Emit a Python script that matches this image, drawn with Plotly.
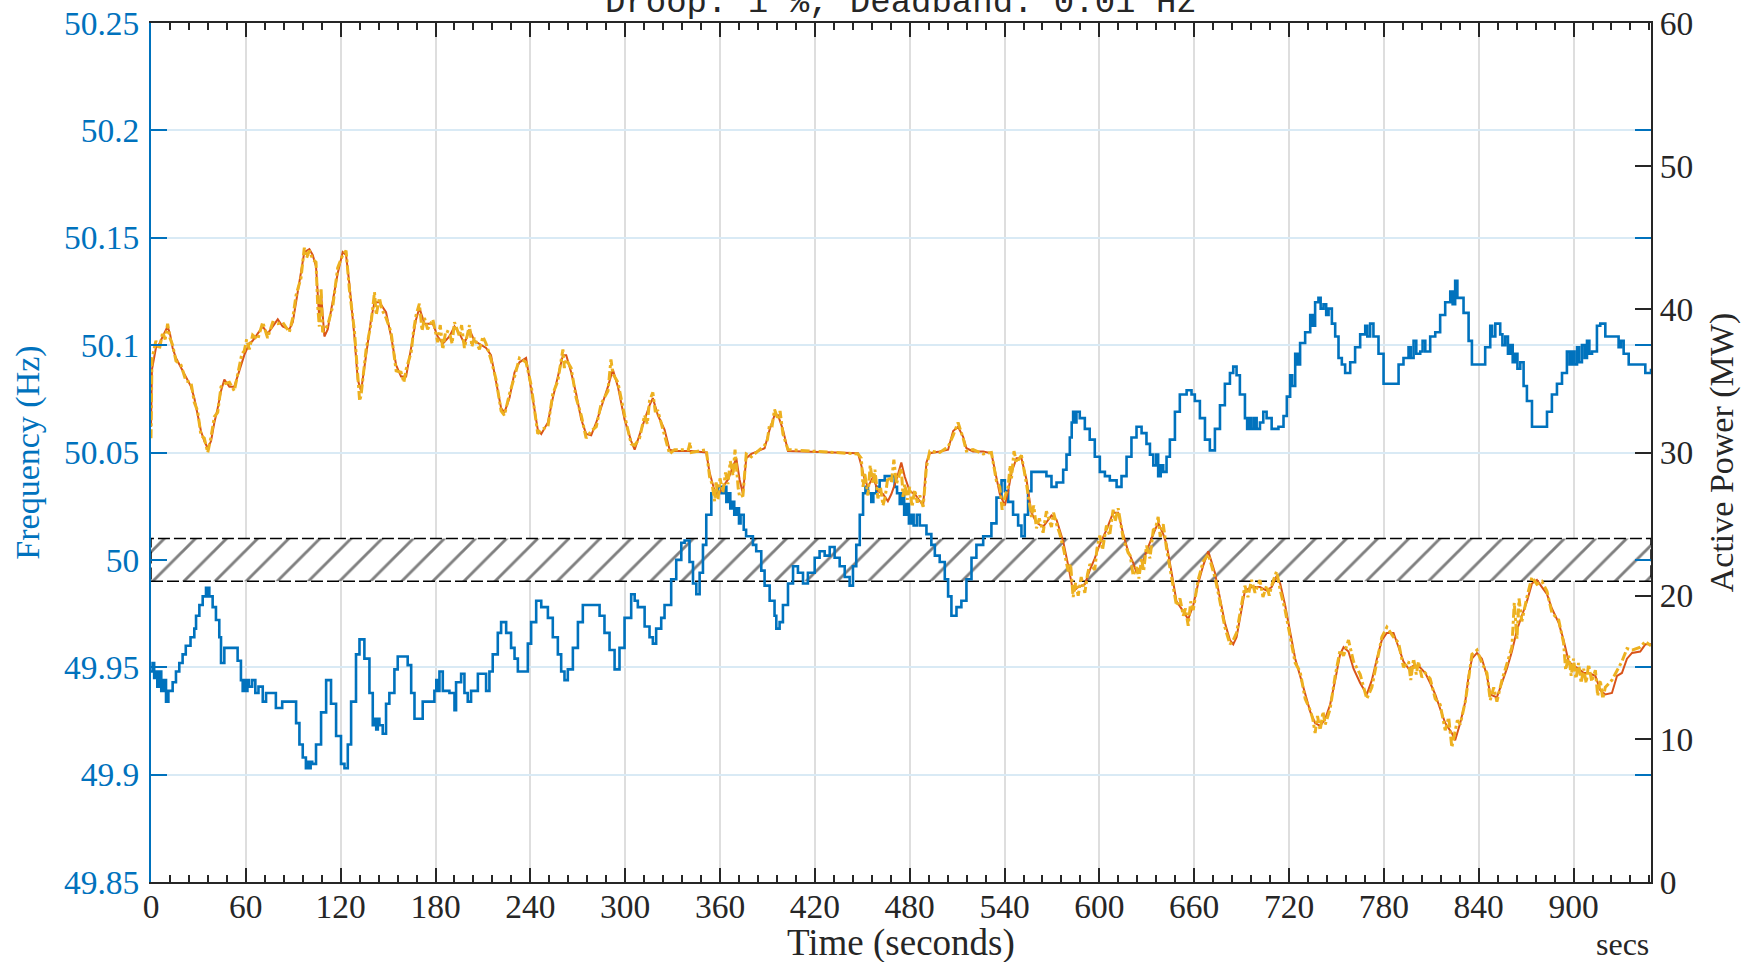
import plotly.graph_objects as go

# ---- grid frequency (Hz), recorded as a staircase signal ----
freq_t = [0, 1, 2, 3, 4, 5, 6.5, 8, 9.5, 11, 13.7, 15.8, 17.9, 20, 22, 25, 27.4, 28.5, 30.6, 32.7,
          34.8, 35.8, 36.3, 36.9, 39, 41.1, 43.2, 44.3, 46.4, 52.7, 54.8, 56.9, 58, 59, 60, 61, 62, 64,
          66, 68, 70.7, 72.8, 77, 79, 83, 89.7, 91.8, 93.9, 96, 98, 99, 100, 101, 102, 104.4, 107.6,
          110.8, 113.9, 117.1, 120.2, 122.4, 124.5, 126.6, 129.7, 131.9, 135, 138.2, 140.3, 141.5,
          142.5, 143.5, 144.5, 146.6, 148.7, 150.8, 154, 156.1, 160.3, 162.4, 164.6, 166.7, 169.8,
          171.9, 177.2, 179.3, 180.5, 181.5, 182.5, 184.6, 188.8, 192, 193, 196.2, 198.3, 200.4,
          202.5, 206.8, 209.9, 212, 214.1, 216.2, 219.4, 221.5, 224.7, 227.8, 230, 232.1, 238.4,
          240.5, 243.7, 246.9, 251.1, 254.2, 257.4, 259.5, 261.6, 263.7, 266.9, 270.1, 273.2, 280.6,
          283.8, 286.9, 290.1, 293.3, 296.4, 299.6, 303.8, 306, 308, 312.3, 315.4, 317.5, 319.6,
          322.8, 324.9, 329.1, 332.3, 335.5, 337.6, 340.7, 342.9, 345.0, 347.1, 349.2, 351.3, 354.5,
          358.7, 361, 362.5, 364, 365, 366.5, 368, 369, 370.5, 372, 373, 375, 376.5, 380.8, 382.9,
          386.1, 388.2, 391.4, 394.5, 395.6, 397.7, 399.8, 403.0, 406.2, 409.3, 412.5, 415.6, 419.9,
          423.0, 426.2, 429.4, 432.5, 435.7, 438.9, 442.0, 444.1, 446.2, 448.4, 450.5, 452, 453.6,
          455.7, 457, 458.9, 461, 464.2, 468.4, 470.5, 472, 473.7, 475, 476.5, 478, 479.5, 481,
          482.5, 484.5, 486.4, 490.6, 493.7, 495.9, 499.0, 502.2, 504.3, 506.4, 509.6, 512.7, 515.9,
          519.1, 522.2, 526.5, 529.6, 531.7, 534.9, 538.1, 540.2, 542.3, 545.4, 548.6, 550.7, 552.8,
          554.9, 557.0, 560.2, 566.5, 569.7, 572.9, 577.1, 579.2, 581.3, 582.5, 583.4, 584.5, 585.5,
          587.6, 590.8, 593.9, 597.1, 600.3, 603.5, 606.6, 610.9, 614.0, 617.2, 620.3, 623.5, 626.7,
          629.8, 632, 634.1, 636, 637.2, 638.8, 640.4, 642.5, 644.6, 647.8, 650.9, 655.2, 658.3,
          660.4, 663.6, 666.8, 669.9, 673.1, 676.3, 679.4, 682.6, 684.7, 686.8, 688.9, 692.1, 693.5,
          695, 696.3, 698, 699.5, 701.6, 703.7, 705.8, 709.0, 713.3, 716.5, 718.6, 720.7, 722, 723.9,
          725.5, 727.0, 730.2, 733.4, 735, 736.5, 738.6, 740, 741.8, 743.5, 745.0, 747.1, 749.2,
          751.3, 753.4, 755.5, 758.7, 761.8, 765.0, 768.2, 769.5, 771.3, 773.4, 776.6, 779.8, 786.1,
          789.3, 792.4, 795.6, 797, 798.8, 800.5, 803.0, 804.5, 806.2, 809.3, 812.5, 815.6, 818.8,
          822.0, 823.5, 825.1, 826.5, 828.3, 830.4, 833.6, 835.7, 841.0, 844.1, 847.3, 848.5, 850.5,
          853.6, 855, 856.8, 858.5, 859.9, 861.5, 863.1, 864.5, 866.3, 868.4, 870.5, 873.7, 880.0,
          883.2, 886.3, 889.5, 892.7, 895.8, 897.5, 899, 900.5, 902.2, 903.5, 905.3, 907, 908.5,
          910, 911.7, 914.8, 916.9, 920.1, 925.4, 928.5, 930, 931.7, 934.9, 943.3, 945.4, 949]
freq_hz = [49.948, 49.952, 49.945, 49.948, 49.941, 49.948, 49.939, 49.944, 49.934, 49.939, 49.943,
           49.948, 49.952, 49.956, 49.960, 49.964, 49.968, 49.974, 49.979, 49.983, 49.987, 49.983,
           49.987, 49.983, 49.978, 49.972, 49.964, 49.952, 49.959, 49.959, 49.953, 49.944, 49.939,
           49.944, 49.939, 49.944, 49.941, 49.944, 49.938, 49.941, 49.934, 49.938, 49.938, 49.931,
           49.934, 49.934, 49.924, 49.914, 49.908, 49.903, 49.906, 49.903, 49.906, 49.905, 49.914,
           49.929, 49.944, 49.933, 49.918, 49.905, 49.903, 49.914, 49.934, 49.956, 49.963, 49.954,
           49.938, 49.923, 49.926, 49.921, 49.926, 49.923, 49.919, 49.933, 49.938, 49.949, 49.955,
           49.955, 49.951, 49.938, 49.926, 49.926, 49.934, 49.934, 49.939, 49.944, 49.939, 49.948,
           49.939, 49.938, 49.930, 49.943, 49.947, 49.938, 49.934, 49.939, 49.947, 49.947, 49.939,
           49.948, 49.956, 49.966, 49.971, 49.966, 49.959, 49.954, 49.948, 49.961, 49.971, 49.981,
           49.978, 49.973, 49.964, 49.956, 49.948, 49.944, 49.949, 49.959, 49.971, 49.979, 49.979,
           49.974, 49.966, 49.958, 49.949, 49.959, 49.973, 49.984, 49.981, 49.978, 49.969, 49.964,
           49.961, 49.968, 49.973, 49.979, 49.991, 50.000, 50.008, 50.009, 49.999, 49.989, 49.984,
           49.994, 50.007, 50.021, 50.031, 50.034, 50.031, 50.034, 50.027, 50.031, 50.024, 50.027,
           50.021, 50.024, 50.017, 50.021, 50.014, 50.011, 50.007, 50.004, 49.995, 49.988, 49.981,
           49.974, 49.968, 49.971, 49.979, 49.989, 49.997, 49.994, 49.989, 49.994, 50.001, 50.004,
           50.002, 50.006, 50.001, 49.997, 49.992, 49.988, 49.997, 50.007, 50.021, 50.031, 50.034,
           50.031, 50.027, 50.031, 50.034, 50.037, 50.039, 50.039, 50.034, 50.031, 50.026, 50.031,
           50.021, 50.026, 50.017, 50.021, 50.016, 50.021, 50.016, 50.012, 50.007, 50.002, 49.999,
           49.991, 49.983, 49.974, 49.978, 49.981, 49.991, 50.001, 50.007, 50.011, 50.011, 50.017,
           50.029, 50.037, 50.032, 50.027, 50.021, 50.016, 50.011, 50.021, 50.032, 50.041, 50.041,
           50.039, 50.034, 50.036, 50.042, 50.049, 50.057, 50.064, 50.069, 50.064, 50.069, 50.066,
           50.061, 50.056, 50.048, 50.041, 50.039, 50.037, 50.034, 50.039, 50.048, 50.057, 50.062,
           50.059, 50.054, 50.049, 50.044, 50.049, 50.039, 50.044, 50.041, 50.048, 50.056, 50.069,
           50.077, 50.079, 50.077, 50.074, 50.066, 50.056, 50.051, 50.061, 50.072, 50.082, 50.087,
           50.090, 50.086, 50.077, 50.066, 50.061, 50.066, 50.061, 50.066, 50.061, 50.064, 50.069,
           50.066, 50.061, 50.062, 50.067, 50.076, 50.086, 50.081, 50.096, 50.091, 50.101, 50.106,
           50.114, 50.109, 50.120, 50.122, 50.117, 50.119, 50.114, 50.117, 50.110, 50.104, 50.094,
           50.091, 50.087, 50.092, 50.099, 50.105, 50.109, 50.104, 50.110, 50.104, 50.096, 50.082,
           50.082, 50.091, 50.094, 50.099, 50.094, 50.102, 50.096, 50.097, 50.102, 50.097, 50.104,
           50.106, 50.114, 50.120, 50.125, 50.119, 50.130, 50.122, 50.122, 50.115, 50.102, 50.091,
           50.091, 50.099, 50.109, 50.104, 50.110, 50.105, 50.100, 50.104, 50.096, 50.100, 50.092,
           50.096, 50.089, 50.092, 50.081, 50.074, 50.062, 50.062, 50.069, 50.077, 50.082, 50.087,
           50.097, 50.091, 50.097, 50.091, 50.099, 50.092, 50.100, 50.094, 50.102, 50.096, 50.097,
           50.109, 50.110, 50.104, 50.104, 50.099, 50.102, 50.096, 50.091, 50.091, 50.087, 50.089]

# ---- active power set-point (MW) ----
power_t = [0, 0.6, 3.1, 5.3, 7.4, 10.5, 12.0, 13.7, 15.8, 19.0, 22.1, 25.3, 27.4, 29.5, 31.6, 33.7,
           35.9, 38.0, 40.1, 42.2, 44.3, 46.4, 49.6, 52.7, 55.9, 59.0, 62.2, 64.3, 67.5, 70.7, 73.8,
           77.0, 80.2, 83.3, 87.5, 89.7, 91.8, 94.9, 97.0, 100.2, 102.3, 104.4, 106.5, 107.6, 109.7,
           111.8, 115.0, 118.1, 121.3, 123.4, 125.5, 128.7, 130.8, 132.9, 136.1, 139.2, 141.4, 144.5,
           148.7, 151.9, 155.1, 158.2, 161.4, 164.6, 167.7, 169.8, 173.0, 178.3, 181.4, 184.6, 188.8,
           192.0, 195.2, 198.3, 201.5, 204.6, 207.8, 212.0, 215.1, 218.3, 221.5, 223.6, 226.8, 230.0,
           233.1, 237.3, 240.5, 244.7, 246.9, 251.1, 254.2, 257.4, 260.6, 262.7, 265.8, 269.0, 272.2,
           275.3, 278.5, 281.7, 284.8, 289.1, 292.2, 295.4, 299.6, 303.8, 306.0, 309.1, 312.3, 315.4,
           317.5, 320.7, 324.9, 328.1, 331.2, 341.8, 351.3, 353.4, 356.6, 358.7, 361.8, 365.0, 368.2,
           370.3, 372.4, 374.5, 376.6, 379.8, 384.0, 388.2, 391.4, 394.5, 396.7, 399.8, 403.0, 447.3,
           449.4, 451.5, 453.6, 456.8, 459.9, 463.1, 466.2, 468.4, 471.6, 474.7, 476.9, 480.0, 483.2,
           486.4, 488.5, 490.6, 492.7, 499.0, 504.3, 507.5, 510.6, 513.8, 515.9, 520.1, 526.5, 531.7,
           534.9, 537.0, 540.2, 542.3, 544.4, 547.6, 550.7, 553.9, 557.0, 560.2, 564.4, 569.7, 572.9,
           577.1, 580.3, 583.4, 586.6, 590.8, 594.0, 597.1, 600.3, 604.5, 608.7, 611.9, 615.1, 618.2,
           621.4, 623.5, 626.7, 629.8, 634.1, 637.2, 640.4, 642.5, 645.7, 648.8, 653.1, 656.2, 659.4,
           662.5, 665.7, 668.9, 673.1, 676.3, 679.4, 682.6, 684.7, 686.8, 690.0, 692.1, 696.3, 701.6,
           705.8, 709.0, 712.1, 714.4, 717.5, 720.7, 723.9, 727.0, 730.2, 733.4, 736.5, 739.7, 742.9,
           746.0, 749.2, 752.3, 754.5, 757.6, 760.8, 765.0, 769.2, 772.4, 775.6, 778.7, 781.9, 786.1,
           789.3, 792.4, 795.6, 798.8, 801.9, 806.2, 809.3, 812.5, 815.6, 818.8, 823.0, 825.1, 828.3,
           831.5, 833.6, 835.7, 838.9, 842.0, 845.2, 847.3, 851.5, 854.7, 857.8, 861.0, 864.2, 867.3,
           870.5, 873.7, 876.8, 880.0, 883.2, 886.3, 890.6, 893.7, 896.9, 900.0, 903.2, 906.4, 909.5,
           913.8, 916.9, 920.1, 924.3, 927.5, 930.6, 933.8, 937.0, 942.2, 945.4, 949]
power_set_mw = [31.8, 35.8, 37.3, 37.6, 38.1, 38.8, 38.3, 37.3, 36.6, 35.9, 35.3, 34.6, 33.8, 32.6,
                31.5, 30.8, 30.3, 30.8, 32.1, 33.1, 34.3, 35.1, 34.6, 34.6, 35.8, 36.8, 37.6, 37.8,
                38.3, 38.8, 38.3, 38.8, 39.3, 38.8, 38.6, 39.1, 40.6, 42.5, 44.0, 44.2, 43.8, 43.0,
                39.3, 41.1, 38.1, 38.6, 40.6, 42.5, 44.0, 43.8, 41.8, 38.1, 35.1, 34.3, 36.8, 39.3,
                40.5, 40.5, 39.8, 38.1, 36.1, 35.3, 35.3, 37.3, 39.3, 40.1, 39.0, 39.0, 38.1, 37.6,
                38.1, 38.8, 38.3, 37.6, 38.6, 37.8, 37.6, 37.3, 36.8, 34.8, 33.1, 32.8, 33.8, 35.6,
                36.3, 36.6, 34.3, 31.6, 31.3, 32.1, 33.8, 35.3, 36.8, 36.8, 35.6, 34.1, 32.3, 31.3,
                31.2, 32.1, 33.1, 34.6, 35.8, 34.6, 32.3, 30.8, 30.2, 31.3, 32.3, 33.3, 33.8, 32.6,
                31.6, 30.2, 30.1, 30.1, 30.0, 28.6, 27.3, 27.0, 27.6, 28.1, 29.1, 29.6, 28.1, 27.1,
                29.6, 29.9, 30.1, 30.3, 31.6, 32.6, 32.6, 31.6, 30.1, 29.95, 29.1, 28.1, 27.6, 28.3,
                27.3, 27.1, 26.6, 27.1, 28.1, 29.3, 28.3, 27.3, 27.1, 26.6, 26.3, 29.3, 29.95, 30.07,
                30.2, 31.5, 31.8, 31.1, 30.3, 30.07, 30.07, 29.95, 28.3, 27.1, 26.3, 27.3, 28.6, 29.6,
                29.6, 28.1, 25.8, 25.1, 24.8, 25.6, 25.3, 23.8, 22.1, 20.3, 20.6, 20.8, 21.8, 22.6,
                23.6, 24.6, 25.8, 25.8, 24.3, 23.1, 22.3, 21.6, 22.1, 23.1, 24.3, 25.1, 24.3, 23.6,
                21.6, 19.6, 18.9, 18.35, 19.35, 20.85, 22.1, 23.1, 21.6, 19.85, 18.1, 16.9, 16.6,
                17.1, 19.1, 20.35, 20.6, 20.6, 20.35, 20.6, 21.35, 20.85, 19.35, 17.35, 15.6, 14.4,
                13.1, 11.9, 11.1, 10.9, 11.4, 12.4, 14.1, 15.9, 16.4, 16.1, 14.9, 13.9, 13.1, 14.1,
                15.6, 16.9, 17.4, 17.4, 16.4, 15.4, 14.9, 15.1, 15.1, 14.6, 13.9, 13.1, 12.1, 11.1,
                10.4, 9.9, 11.1, 12.6, 14.4, 15.6, 16.0, 15.6, 14.4, 13.1, 12.9, 13.9, 14.9, 16.1,
                17.6, 18.6, 19.6, 20.85, 21.1, 20.6, 20.1, 19.1, 18.1, 16.9, 15.4, 15.1, 14.9, 14.6,
                14.6, 14.4, 13.4, 13.1, 13.2, 14.4, 14.6, 15.6, 16.0, 16.1, 16.6, 16.6]

# ---- active power measured at the plant (MW), noisier than the set-point ----
meas_t = [0, 0.6, 3.1, 5.3, 7.4, 9.0, 10.5, 12.0, 13.7, 15.8,
          19.0, 22.1, 25.3, 27.4, 29.5, 31.6, 33.7, 35.9, 38.0, 40.1,
          42.2, 44.3, 46.4, 49.6, 52.7, 55.9, 57.5, 59.0, 60.5, 62.2,
          64.3, 67.5, 70.7, 73.8, 77.0, 80.2, 83.3, 87.5, 89.7, 91.8,
          94.9, 97.0, 98.5, 100.2, 102.3, 104.4, 105.5, 106.5, 107.6, 108.6,
          109.7, 111.8, 115.0, 118.1, 121.3, 123.4, 125.5, 128.7, 130.8, 132.0,
          132.9, 136.1, 139.2, 141.4, 142.5, 144.5, 146.0, 148.7, 151.9, 155.1,
          158.2, 160.0, 161.4, 164.6, 166.0, 167.7, 169.8, 171.5, 173.0, 175.0,
          178.3, 181.4, 183.0, 184.6, 186.5, 188.8, 190.5, 192.0, 195.2, 196.5,
          198.3, 201.5, 203.0, 204.6, 207.8, 210.0, 212.0, 215.1, 218.3, 221.5,
          223.6, 226.8, 230.0, 233.1, 237.3, 240.5, 244.7, 246.9, 251.1, 254.2,
          257.4, 260.6, 261.5, 262.7, 265.8, 269.0, 272.2, 275.3, 278.5, 281.7,
          284.8, 289.1, 291.0, 292.2, 295.4, 299.6, 303.8, 306.0, 309.1, 312.3,
          314.0, 315.4, 317.5, 319.0, 320.7, 324.9, 328.1, 331.2, 340.0, 341.0,
          341.8, 351.3, 353.4, 355.0, 356.6, 357.5, 358.7, 360.0, 361.8, 363.5,
          365.0, 366.5, 368.2, 369.5, 370.3, 371.5, 372.4, 374.5, 376.6, 379.8,
          384.0, 388.2, 390.0, 391.4, 393.0, 394.5, 396.7, 398.0, 399.8, 403.0,
          447.3, 449.4, 450.5, 451.5, 453.6, 455.0, 456.8, 458.0, 459.9, 461.5,
          463.1, 464.5, 466.2, 468.4, 470.0, 471.6, 474.7, 475.8, 476.9, 478.5,
          480.0, 481.5, 483.2, 484.8, 486.4, 488.5, 490.6, 492.7, 499.0, 504.3,
          507.5, 510.6, 513.8, 515.9, 520.1, 526.5, 531.7, 534.9, 537.0, 538.5,
          540.2, 542.3, 543.5, 544.4, 546.0, 547.6, 550.7, 553.9, 557.0, 558.5,
          560.2, 562.0, 564.4, 566.5, 569.7, 571.0, 572.9, 575.0, 577.1, 580.3,
          581.8, 583.4, 585.0, 586.6, 588.5, 590.8, 592.5, 594.0, 597.1, 598.5,
          600.3, 602.0, 604.5, 606.5, 608.7, 610.0, 611.9, 613.5, 615.1, 618.2,
          619.5, 621.4, 623.5, 625.0, 626.7, 628.0, 629.8, 632.0, 634.1, 635.5,
          637.2, 638.5, 640.4, 642.5, 645.7, 648.8, 651.0, 653.1, 654.5, 656.2,
          657.8, 659.4, 662.5, 665.7, 668.9, 673.1, 676.3, 679.4, 682.6, 684.7,
          686.8, 690.0, 692.1, 694.0, 696.3, 698.5, 701.6, 703.5, 705.8, 707.5,
          709.0, 712.1, 714.4, 717.5, 720.7, 723.9, 727.0, 730.2, 733.4, 735.0,
          736.5, 738.0, 739.7, 741.5, 742.9, 746.0, 749.2, 752.3, 754.5, 757.6,
          760.8, 765.0, 769.2, 772.4, 775.6, 778.7, 781.9, 786.1, 789.3, 792.4,
          795.6, 797.0, 798.8, 800.5, 801.9, 804.0, 806.2, 809.3, 812.5, 815.6,
          818.8, 821.0, 823.0, 825.1, 826.5, 828.3, 831.5, 833.6, 835.7, 838.9,
          842.0, 845.2, 847.3, 849.5, 851.5, 854.7, 857.8, 861.0, 862.5, 864.2,
          865.5, 867.3, 870.5, 873.7, 876.8, 880.0, 883.2, 886.3, 890.6, 893.7,
          895.0, 896.9, 898.5, 900.0, 901.5, 903.2, 904.8, 906.4, 908.0, 909.5,
          911.5, 913.8, 915.3, 916.9, 918.5, 920.1, 924.3, 927.5, 930.6, 933.8,
          937.0, 942.2, 945.4, 949]
power_meas_mw = [31.0, 36.5, 37.8, 37.2, 38.4, 37.9, 39.0, 38.0, 37.5, 36.4,
                 36.1, 35.0, 34.9, 33.5, 32.9, 31.2, 31.0, 30.0, 31.1, 32.5,
                 32.8, 34.6, 34.8, 34.9, 34.3, 36.2, 36.9, 37.1, 37.9, 37.2,
                 38.2, 37.9, 39.1, 38.0, 39.1, 39.0, 39.1, 38.4, 39.4, 41.0,
                 42.2, 44.3, 43.6, 44.1, 43.5, 43.3, 40.2, 38.8, 41.5, 38.4,
                 38.6, 38.9, 40.2, 42.9, 43.8, 44.1, 41.4, 38.5, 35.4, 33.6,
                 34.0, 37.2, 39.0, 41.2, 39.6, 40.8, 40.0, 39.4, 38.4, 35.7,
                 35.6, 34.9, 35.8, 37.0, 38.4, 39.6, 40.4, 38.5, 39.4, 38.6,
                 39.3, 37.7, 38.9, 37.2, 38.5, 38.4, 37.6, 39.1, 38.1, 38.9,
                 37.3, 38.9, 37.4, 38.0, 37.2, 38.1, 37.6, 36.5, 35.1, 32.9,
                 32.6, 34.1, 35.3, 36.6, 36.3, 34.7, 31.3, 31.6, 31.8, 34.1,
                 35.0, 37.2, 35.9, 36.5, 35.9, 33.8, 32.6, 31.0, 31.5, 31.8,
                 33.4, 34.3, 36.5, 35.5, 34.9, 32.6, 30.6, 30.5, 31.0, 32.6,
                 32.0, 33.6, 34.2, 32.9, 32.9, 31.3, 29.9, 30.2, 30.2, 30.7,
                 30.0, 30.2, 28.3, 27.8, 26.6, 28.0, 26.7, 28.2, 27.2, 28.6,
                 27.8, 29.4, 28.4, 30.2, 29.0, 27.5, 26.9, 27.0, 29.9, 29.7,
                 30.1, 30.5, 30.9, 32.0, 31.9, 33.0, 32.3, 32.9, 31.3, 30.2,
                 29.9, 29.6, 27.6, 28.6, 27.0, 29.1, 27.8, 28.8, 26.8, 27.6,
                 26.3, 26.9, 28.3, 27.9, 29.5, 27.8, 28.9, 26.9, 27.8, 26.7,
                 27.6, 26.2, 27.4, 26.5, 27.0, 26.2, 29.0, 30.1, 30.0, 30.4,
                 31.2, 32.1, 31.0, 30.1, 30.2, 29.9, 30.0, 28.0, 27.6, 26.0,
                 26.9, 27.6, 29.1, 28.2, 30.1, 29.3, 29.8, 27.8, 25.5, 26.3,
                 24.7, 25.4, 24.4, 25.9, 24.8, 25.8, 25.0, 24.3, 23.4, 21.7,
                 22.2, 19.9, 20.9, 20.0, 21.3, 20.2, 21.5, 22.2, 21.8, 23.3,
                 24.2, 23.2, 24.9, 24.2, 26.0, 25.2, 26.1, 25.0, 24.0, 23.0,
                 22.8, 21.4, 22.0, 21.2, 22.6, 21.7, 23.5, 22.6, 24.6, 24.7,
                 25.5, 24.1, 25.0, 23.3, 21.3, 19.3, 19.8, 18.6, 19.1, 17.9,
                 19.6, 19.0, 21.1, 22.4, 22.9, 21.3, 19.6, 17.8, 16.6, 16.9,
                 17.4, 19.4, 20.7, 19.9, 21.1, 20.2, 21.1, 19.9, 20.7, 20.0,
                 20.7, 21.7, 20.4, 19.0, 17.1, 15.3, 14.7, 12.8, 12.0, 11.4,
                 10.4, 11.6, 10.6, 11.9, 11.0, 12.1, 14.4, 16.2, 15.8, 16.9,
                 15.4, 14.5, 12.8, 13.6, 15.4, 17.1, 17.8, 17.1, 16.7, 15.0,
                 15.4, 14.1, 15.6, 14.5, 15.4, 14.3, 14.6, 14.2, 12.8, 12.4,
                 10.6, 11.5, 9.4, 10.5, 11.3, 11.0, 12.6, 14.2, 15.9, 16.2,
                 15.3, 14.6, 12.7, 13.6, 12.6, 14.1, 15.2, 16.4, 19.5, 17.0,
                 19.8, 18.2, 19.9, 21.3, 20.8, 21.0, 20.3, 18.8, 18.3, 16.7,
                 14.8, 15.8, 14.4, 15.6, 14.2, 15.3, 13.9, 14.9, 13.9, 15.2,
                 14.0, 14.8, 13.0, 14.1, 12.8, 13.6, 14.1, 14.8, 15.4, 16.3,
                 16.2, 16.4, 16.8, 16.5]

assert len(freq_t) == len(freq_hz)
assert len(power_t) == len(power_set_mw)
assert len(meas_t) == len(power_meas_mw)

# ---- axes, ticks and annotations ----
x_range = [0, 949]
time_ticks = [0, 60, 120, 180, 240, 300, 360, 420, 480, 540, 600, 660, 720, 780, 840, 900]
freq_range = [49.85, 50.25]
freq_ticks = [49.85, 49.9, 49.95, 50.0, 50.05, 50.1, 50.15, 50.2, 50.25]
freq_tick_labels = ["49.85", "49.9", "49.95", "50", "50.05", "50.1", "50.15", "50.2", "50.25"]
power_range = [0, 60]
power_ticks = [0, 10, 20, 30, 40, 50, 60]
deadband_low, deadband_high = 49.99, 50.01
chart_title = "Droop: 1 %, Deadband: 0.01 Hz"
x_title = "Time (seconds)"
x_unit = "secs"

BLUE = "#0072BD"
ORANGE = "#D95319"
YELLOW = "#EDB120"
INK = "#262626"
SERIF = "Liberation Serif, Times New Roman, serif"
TICK_SIZE = 33.5

fig = go.Figure()

# hatched deadband strip
fig.add_trace(go.Scatter(
    x=[x_range[0], x_range[1], x_range[1], x_range[0], x_range[0]],
    y=[deadband_low, deadband_low, deadband_high, deadband_high, deadband_low],
    mode="lines", fill="toself", fillcolor="white",
    fillpattern=dict(shape="/", fgcolor="black", bgcolor="white", size=22, solidity=0.13),
    line=dict(color="black", width=1.5, dash="12px,4px"),
    hoverinfo="skip", showlegend=False, yaxis="y"))

fig.add_trace(go.Scatter(
    x=freq_t, y=freq_hz, mode="lines", line=dict(color=BLUE, width=2.6, shape="hv"),
    showlegend=False, yaxis="y"))

fig.add_trace(go.Scatter(
    x=power_t, y=power_set_mw, mode="lines", line=dict(color=ORANGE, width=2.0),
    showlegend=False, yaxis="y2"))

fig.add_trace(go.Scatter(
    x=meas_t, y=power_meas_mw, mode="lines", line=dict(color=YELLOW, width=3.0, dash="dashdot"),
    showlegend=False, yaxis="y2"))

fig.update_layout(
    width=1748, height=962,
    margin=dict(l=151, r=97, t=23, b=80, autoexpand=False),
    paper_bgcolor="white", plot_bgcolor="white",
    showlegend=False,
    xaxis=dict(
        range=x_range, tickmode="array", tickvals=time_ticks,
        ticks="inside", ticklen=14, tickwidth=2, tickcolor=INK, ticklabelstandoff=-6,
        minor=dict(tickmode="linear", tick0=0, dtick=12, ticks="inside", ticklen=7,
                   tickwidth=1.5, tickcolor=INK, showgrid=False),
        showline=True, linecolor=INK, linewidth=2, mirror="ticks",
        showgrid=True, gridcolor="#dedede", gridwidth=2, zeroline=False,
        tickfont=dict(family=SERIF, size=TICK_SIZE, color=INK),
    ),
    yaxis=dict(
        range=freq_range, tickmode="array", tickvals=freq_ticks, ticktext=freq_tick_labels,
        ticks="inside", ticklen=16, tickwidth=2, tickcolor=BLUE, ticklabelstandoff=3,
        showline=True, linecolor=BLUE, linewidth=2, mirror="ticks",
        showgrid=True, gridcolor="#d9eaf5", gridwidth=1.5, zeroline=False,
        tickfont=dict(family=SERIF, size=TICK_SIZE, color=BLUE),
        title=dict(text="Frequency (Hz)", font=dict(family=SERIF, size=34, color=BLUE), standoff=14),
    ),
    yaxis2=dict(
        overlaying="y", side="right", range=power_range, tickmode="array", tickvals=power_ticks,
        ticks="inside", ticklen=16, tickwidth=2, tickcolor=INK,
        showline=True, linecolor=INK, linewidth=2, showgrid=False, zeroline=False,
        tickfont=dict(family=SERIF, size=TICK_SIZE, color=INK),
        title=dict(text="Active Power (MW)", font=dict(family=SERIF, size=34, color=INK), standoff=17),
    ),
    annotations=[
        dict(text=chart_title, xref="paper", yref="paper", x=0.5, y=1.0,
             xanchor="center", yanchor="bottom", showarrow=False, yshift=-1,
             font=dict(family="Liberation Mono, Courier New, monospace", size=34, color=INK)),
        dict(text=x_title, xref="paper", yref="paper", x=0.5, y=-0.0715,
             xanchor="center", yanchor="middle", showarrow=False,
             font=dict(family=SERIF, size=37, color=INK)),
        dict(text=x_unit, xref="paper", yref="paper", x=1.0, y=-0.072,
             xanchor="right", yanchor="middle", showarrow=False,
             font=dict(family=SERIF, size=32, color=INK)),
    ],
)

fig.write_html("out.html")
